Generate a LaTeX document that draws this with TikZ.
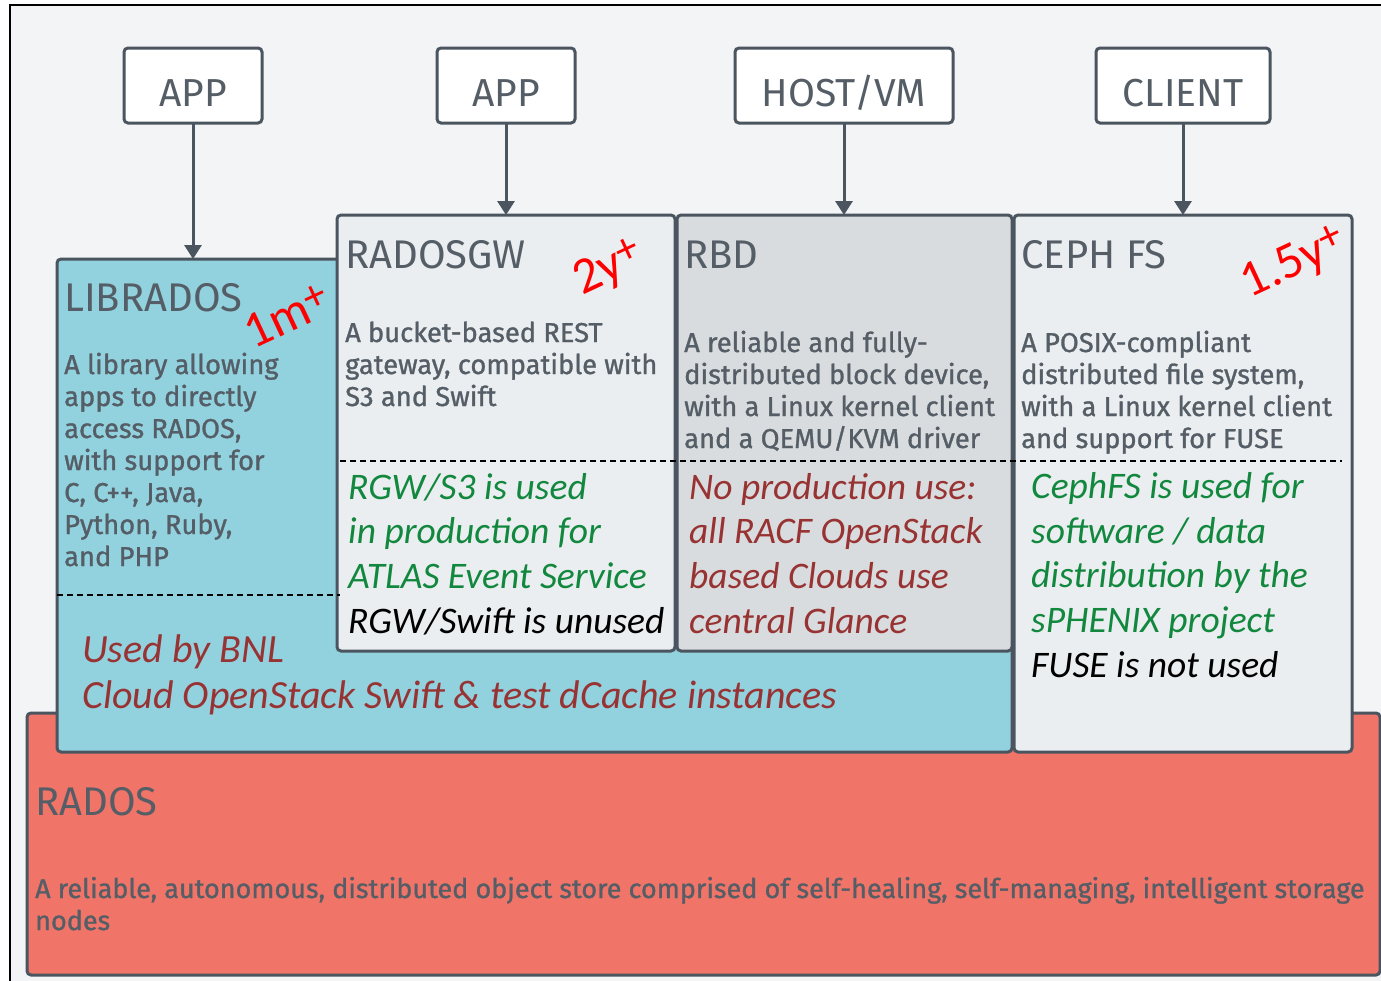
\documentclass[tikz,border=0pt]{standalone}
\usepackage{fontspec}
\setmainfont{Fira Sans}
\newfontfamily\titlefont{Fira Sans}
\newfontfamily\descfont{Fira Sans}[FakeBold=1.1]
\newfontfamily\calfont{Carlito}
\usetikzlibrary{arrows.meta}
\definecolor{bord}{HTML}{4A5560}
\definecolor{txt}{HTML}{555E66}
\definecolor{bg}{HTML}{F3F4F6}
\definecolor{libc}{HTML}{92D1DE}
\definecolor{gwc}{HTML}{EBEEF0}
\definecolor{rbdc}{HTML}{D9DCDE}
\definecolor{radosc}{HTML}{F07468}
\definecolor{grn}{HTML}{12883F}
\definecolor{dred}{HTML}{983333}
\tikzset{
  box/.style={draw=bord, line width=3pt, rounded corners=4pt, anchor=north west, inner sep=0pt, outer sep=0pt},
  topbox/.style={box, fill=white, minimum height=75pt},
  toptext/.style={font=\titlefont\fontsize{39}{40}\selectfont, text=txt, anchor=base, inner sep=0pt},
  title/.style={font=\titlefont\fontsize{40}{42}\selectfont, text=txt, anchor=base west, inner sep=0pt},
  desc/.style={font=\descfont\fontsize{27.3}{32}\selectfont, text=txt, anchor=base west, inner sep=0pt, align=left},
  note/.style={font=\calfont\itshape\fontsize{37.5}{44.6}\selectfont, anchor=base west, inner sep=0pt, align=left},
  bignote/.style={note, font=\calfont\itshape\fontsize{40}{46}\selectfont},
  age/.style={font=\calfont\fontsize{51}{52}\selectfont, text=red, rotate=25, inner sep=0pt},
  arr/.style={draw=bord, line width=3pt, -{Triangle[width=17pt,length=14pt]}},
  sep/.style={dash pattern=on 6pt off 4pt, line width=1.5pt, black}
}
\newcommand{\plusup}{\raisebox{0.17em}{\fontsize{44}{44}\selectfont +}}
\begin{document}
\begin{tikzpicture}[x=1pt,y=-1pt]
\useasboundingbox (0,0) rectangle (1381,980);
\fill[white] (0,0) rectangle (1381,980);
\draw[black, line width=1.2pt, fill=bg] (10,5) rectangle (1420,1020);

% base layer
\node[box, fill=radosc, minimum width=1353pt, minimum height=262pt] (rados) at (27,713) {};
\node[box, fill=libc, minimum width=955pt, minimum height=493pt] (lib) at (57,259) {};
\node[box, fill=gwc, minimum width=338pt, minimum height=436pt] (gw) at (337,215) {};
\node[box, fill=rbdc, minimum width=335pt, minimum height=436pt] (rbd) at (677,215) {};
\node[box, fill=gwc, minimum width=338pt, minimum height=537pt] (cfs) at (1014,215) {};

% clients
\node[topbox, minimum width=138pt] (app1) at (124,48) {};
\node[topbox, minimum width=138pt] (app2) at (437,48) {};
\node[topbox, minimum width=218pt] (host) at (735,48) {};
\node[topbox, minimum width=174pt] (client) at (1096,48) {};
\node[toptext] (app1t) at (app1.center |- 0,106) {APP};
\node[toptext] (app2t) at (app2.center |- 0,106) {APP};
\node[toptext] (hostt) at (host.center |- 0,106) {HOST/VM};
\node[toptext] (clientt) at (client.center |- 0,106) {CLIENT};

\draw[arr] (app1.south) -- (app1.south |- lib.north);
\draw[arr] (app2.south) -- (app2.south |- gw.north);
\draw[arr] (host.south) -- (host.south |- rbd.north);
\draw[arr] (client.south) -- (client.south |- cfs.north);

% dashed separators
\draw[sep] (57,595) -- (340,595);
\draw[sep] (340,461) -- (1342,461);

% LIBRADOS
\node[title] (libt) at (64,311) {LIBRADOS};
\node[age] (liba) at (287,316) {1m\plusup};
\node[desc] (libd) at (64,566) {A library allowing\\apps to directly\\access RADOS,\\with support for\\C, C++, Java,\\Python, Ruby,\\and PHP};
\node[bignote, text=dred] (libn) at (82,708) {Used by BNL\\Cloud OpenStack Swift \& test dCache instances};

% RADOSGW
\node[title] (gwt) at (345,268) {RADOSGW};
\node[age] (gwa) at (609,269) {2y\plusup};
\node[desc] (gwd) at (345,406) {A bucket-based REST\\gateway, compatible with\\S3 and Swift};
\node[note, text=grn] (gwn) at (348,633) {RGW/S3 is used\\in production for\\ATLAS Event Service\\\textcolor{black}{RGW/Swift is unused}};

% RBD
\node[title] (rbdt) at (684,268) {RBD};
\node[desc] (rbdd) at (684,448) {A reliable and fully-\\distributed block device,\\with a Linux kernel client\\and a QEMU/KVM driver};
\node[note, text=dred] (rbdn) at (689,633) {No production use:\\all RACF OpenStack\\based Clouds use\\central Glance};

% CEPH FS
\node[title] (cfst) at (1021,268) {CEPH FS};
\node[age] (cfsa) at (1294,264) {1.5y\plusup};
\node[desc] (cfsd) at (1021,448) {A POSIX-compliant\\distributed file system,\\with a Linux kernel client\\and support for FUSE};
\node[note, text=grn] (cfsn) at (1031,677) {CephFS is used for\\software / data\\distribution by the\\sPHENIX project\\\textcolor{black}{FUSE is not used}};

% RADOS
\node[title] (radost) at (35,815) {RADOS};
\node[desc, font=\descfont\fontsize{27}{32}\selectfont] (radosd) at (35,930) {A reliable, autonomous, distributed object store comprised of self-healing, self-managing, intelligent storage\\nodes};
\end{tikzpicture}
\end{document}
